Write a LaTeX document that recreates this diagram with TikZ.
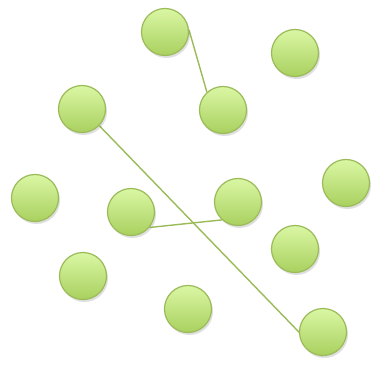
\documentclass[tikz,border=0pt]{standalone}
\usepackage{xcolor}
\usepackage{tikz}
\usetikzlibrary{shapes.geometric, shadows, backgrounds}
\definecolor{leafgreen}{HTML}{9BBB59}
\definecolor{lighttop}{HTML}{DAF7A4}
\definecolor{darkbottom}{HTML}{A9D05F}

\begin{document}
\begin{tikzpicture}[
x=1pt, y=-1pt,
every node/.style={minimum size=47pt, inner sep=0pt},
link/.style={draw=leafgreen, line width=1.4pt}
]

% Define styles
\tikzstyle{ball} = [circle, top color=lighttop, bottom color=darkbottom, draw=leafgreen, line width=1.2pt, drop shadow={shadow xshift=1.5pt, shadow yshift=-2.5pt, opacity=0.25}]

\useasboundingbox (0,0) rectangle (372,366);

% Nodes
\node (a) [ball] at (165,32) {};
\node (b) [ball] at (295,53) {};
\node (c) [ball] at (82,109) {};
\node (d) [ball] at (223,110) {};
\node (e) [ball] at (35,198) {};
\node (f) [ball] at (131,212) {};
\node (g) [ball] at (238,202) {};
\node (h) [ball] at (346,183) {};
\node (i) [ball] at (295,249) {};
\node (j) [ball] at (83,276) {};
\node (k) [ball] at (188,309) {};
\node (l) [ball] at (323,332) {};

% Links
\begin{pgfonlayer}{background}
\draw [link] (a.5) -- (d.132);
\draw [link] (f.-40) -- (g.228);
\draw [link] (c.-44) -- (l.-92);
\end{pgfonlayer}

\end{tikzpicture}
\end{document}
